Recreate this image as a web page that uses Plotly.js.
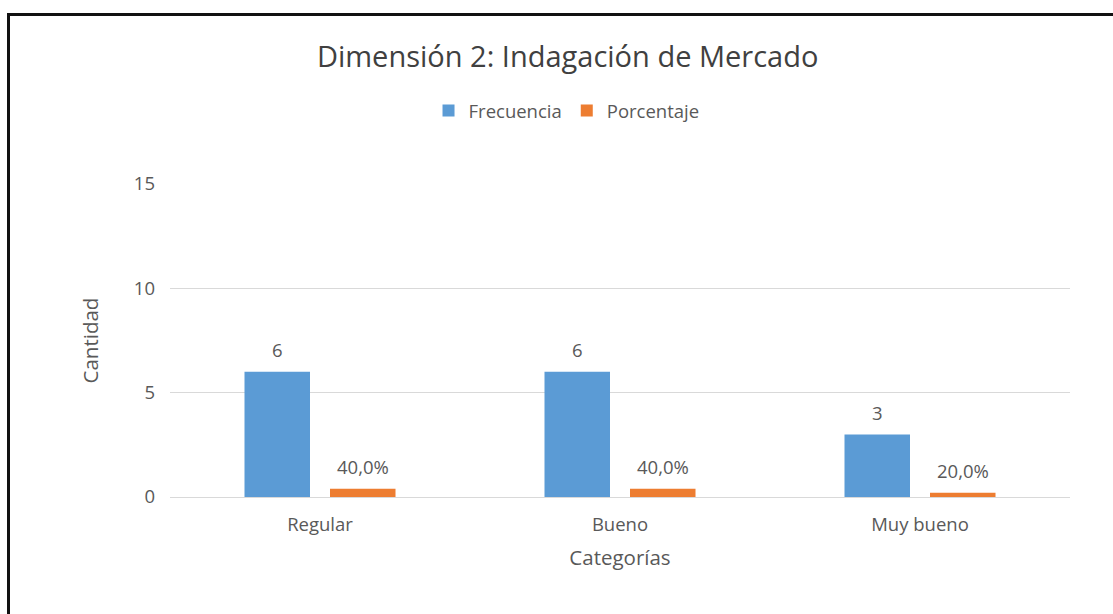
<!DOCTYPE html>
<html>
<head>
<meta charset="utf-8">
<script src="https://cdn.plot.ly/plotly-3.0.1.min.js"></script>
<style>
  html, body { margin: 0; padding: 0; background: #fff; overflow: hidden; }
  #chart { width: 1113px; height: 614px; position: absolute; left: 0; top: 0; }
  #frame { position: absolute; left: 7px; top: 13px; width: 1200px; height: 700px;
           border-left: 3px solid #111; border-top: 3px solid #111; pointer-events: none; }
</style>
</head>
<body>
<div id="chart"></div>
<div id="frame"></div>
<script>
const categories = ["Regular", "Bueno", "Muy bueno"];
const frecuencia = [6, 6, 3];
const porcentaje = [0.4, 0.4, 0.2];
const yTicks = [0, 5, 10, 15];

const fmtPct = v => (v * 100).toFixed(1).replace('.', ',') + '%';
const FONT = '"Open Sans", "Noto Sans", sans-serif';
const TXT = '#595959';

const M = { l: 170, r: 43, t: 184, b: 117 };
const W = 1113, H = 614;
const BARGAP = 0.43;
const catPx = (W - M.l - M.r) / categories.length;
const slotPx = (1 - BARGAP) * catPx / 2;

const traces = [
  { type: 'bar', name: 'Frecuencia', x: categories, y: frecuencia, marker: { color: '#5B9BD5' } },
  { type: 'bar', name: 'Porcentaje', x: categories, y: porcentaje, marker: { color: '#ED7D31' } }
];

const annotations = [];
categories.forEach((c, i) => {
  annotations.push({ x: c, y: frecuencia[i], xref: 'x', yref: 'y', text: String(frecuencia[i]),
    showarrow: false, xshift: -slotPx / 2, yshift: 22, yanchor: 'middle',
    font: { family: FONT, size: 18.5, color: TXT } });
  annotations.push({ x: c, y: porcentaje[i], xref: 'x', yref: 'y', text: fmtPct(porcentaje[i]),
    showarrow: false, xshift: slotPx / 2, yshift: 22, yanchor: 'middle',
    font: { family: FONT, size: 18.5, color: TXT } });
});

const layout = {
  width: W, height: H,
  margin: M,
  paper_bgcolor: '#fff', plot_bgcolor: '#fff',
  font: { family: FONT, color: TXT },
  title: { text: 'Dimensión 2: Indagación de Mercado', x: 0.51, xanchor: 'center',
           y: 1 - 57 / H, yanchor: 'middle', yref: 'container',
           font: { family: FONT, size: 29, color: '#404040' } },
  barmode: 'group', bargap: BARGAP, bargroupgap: 0.234,
  showlegend: true,
  legend: { orientation: 'h', x: 0.509, xref: 'container', xanchor: 'center',
            y: 1 - 111 / H, yref: 'container', yanchor: 'middle',
            font: { family: FONT, size: 18.5, color: TXT }, itemwidth: 30 },
  annotations: annotations,
  xaxis: {
    type: 'category', showgrid: false, showline: false, zeroline: false,
    tickfont: { family: FONT, size: 18.5, color: TXT }, ticks: '', ticklabelstandoff: 14,
    title: { text: 'Categorías', font: { family: FONT, size: 20.5, color: TXT }, standoff: 16 }
  },
  yaxis: {
    range: [0, 15], tickvals: yTicks, ticktext: yTicks.map(String),
    showgrid: true, gridcolor: '#d9d9d9', gridwidth: 1, zeroline: true, zerolinecolor: '#d9d9d9',
    showline: false, ticks: '', ticklabelstandoff: 14,
    tickfont: { family: FONT, size: 18.5, color: TXT },
    title: { text: 'Cantidad', font: { family: FONT, size: 20.5, color: TXT }, standoff: 29 }
  }
};

Plotly.newPlot('chart', traces, layout, { displayModeBar: false, staticPlot: true });
</script>
</body>
</html>
